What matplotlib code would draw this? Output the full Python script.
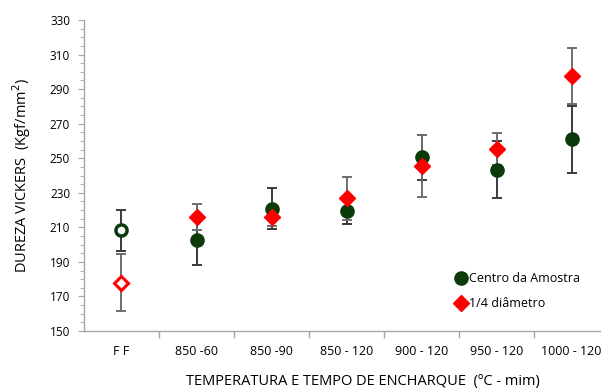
import matplotlib.pyplot as plt

plt.rcParams['font.family'] = ['Open Sans', 'DejaVu Sans']

categorias = ["F F", "850 -60", "850 -90", "850 - 120", "900 - 120", "950 - 120", "1000 - 120"]

centro = [208.3, 202.6, 220.8, 219.4, 250.6, 243.4, 260.9]
centro_err = [12.0, 14.6, 12.0, 7.7, 13.0, 16.3, 19.3]

quarto = [178.0, 216.0, 216.1, 226.7, 245.3, 255.5, 297.5]
quarto_err = [16.4, 7.5, 5.6, 12.6, 18.0, 9.3, 16.1]

verde = '#0b3a0b'
vermelho = '#ff0000'

fig = plt.figure(figsize=(6.01, 3.89), dpi=100)
ax = fig.add_axes([84 / 601, 58 / 389, 525 / 601, 311 / 389])

x = list(range(len(categorias)))

ax.errorbar(x, centro, yerr=centro_err, fmt='none', ecolor='#3a3a3a', elinewidth=1.4,
            capsize=3.5, capthick=1.4, zorder=2)
ax.errorbar(x, quarto, yerr=quarto_err, fmt='none', ecolor='#6e6e6e', elinewidth=1.4,
            capsize=3.5, capthick=1.4, zorder=2)

# primeiro ponto (F F) com marcador vazado
ax.plot(x[:1], centro[:1], 'o', ms=8, mfc='white', mec=verde, mew=2.5, zorder=3)
ax.plot(x[:1], quarto[:1], 'D', ms=7.5, mfc='white', mec=vermelho, mew=2.2, zorder=3)
ax.plot(x[1:], centro[1:], 'o', ms=9.5, color=verde, zorder=3)
ax.plot(x[1:], quarto[1:], 'D', ms=8.5, color=vermelho, zorder=3)

# entradas da legenda
ax.plot([], [], 'o', ms=9.5, color=verde, label='Centro da Amostra')
ax.plot([], [], 'D', ms=8.5, color=vermelho, label='1/4 diâmetro')
handles, labels = ax.get_legend_handles_labels()
ax.legend(handles[-2:], labels[-2:], loc='upper left', bbox_to_anchor=(0.695, 0.205),
          frameon=False, fontsize=9, handletextpad=0.0, handlelength=1.2,
          labelspacing=0.95, borderaxespad=0)

ax.set_xlim(-0.5, len(categorias) - 0.5)
ax.set_ylim(150, 330)
ax.set_xticks(x)
ax.set_xticklabels(categorias, fontsize=9)
ax.set_xticks([i + 0.5 for i in x[:-1]], minor=True)
ax.tick_params(axis='x', which='major', length=0, pad=10)
ax.tick_params(axis='x', which='minor', length=5, color='#a6a6a6', width=1)
ax.set_yticks(range(150, 331, 20))
ax.set_yticks(range(150, 331, 5), minor=True)
ax.tick_params(axis='y', which='major', length=4, color='#a6a6a6', labelsize=8.5, pad=6)
ax.tick_params(axis='y', which='minor', length=3, color='#a6a6a6')

for lado in ['top', 'right']:
    ax.spines[lado].set_visible(False)
for lado in ['left', 'bottom']:
    ax.spines[lado].set_color('#a6a6a6')
    ax.spines[lado].set_linewidth(1)

ax.set_ylabel('DUREZA VICKERS  (Kgf/mm$^2$)', fontsize=10.5, labelpad=12)
fig.text(363 / 601, 7 / 389, 'TEMPERATURA E TEMPO DE ENCHARQUE  (ºC - mim)',
         ha='center', va='center', fontsize=10.5)

fig.savefig('out.png', dpi=100)
